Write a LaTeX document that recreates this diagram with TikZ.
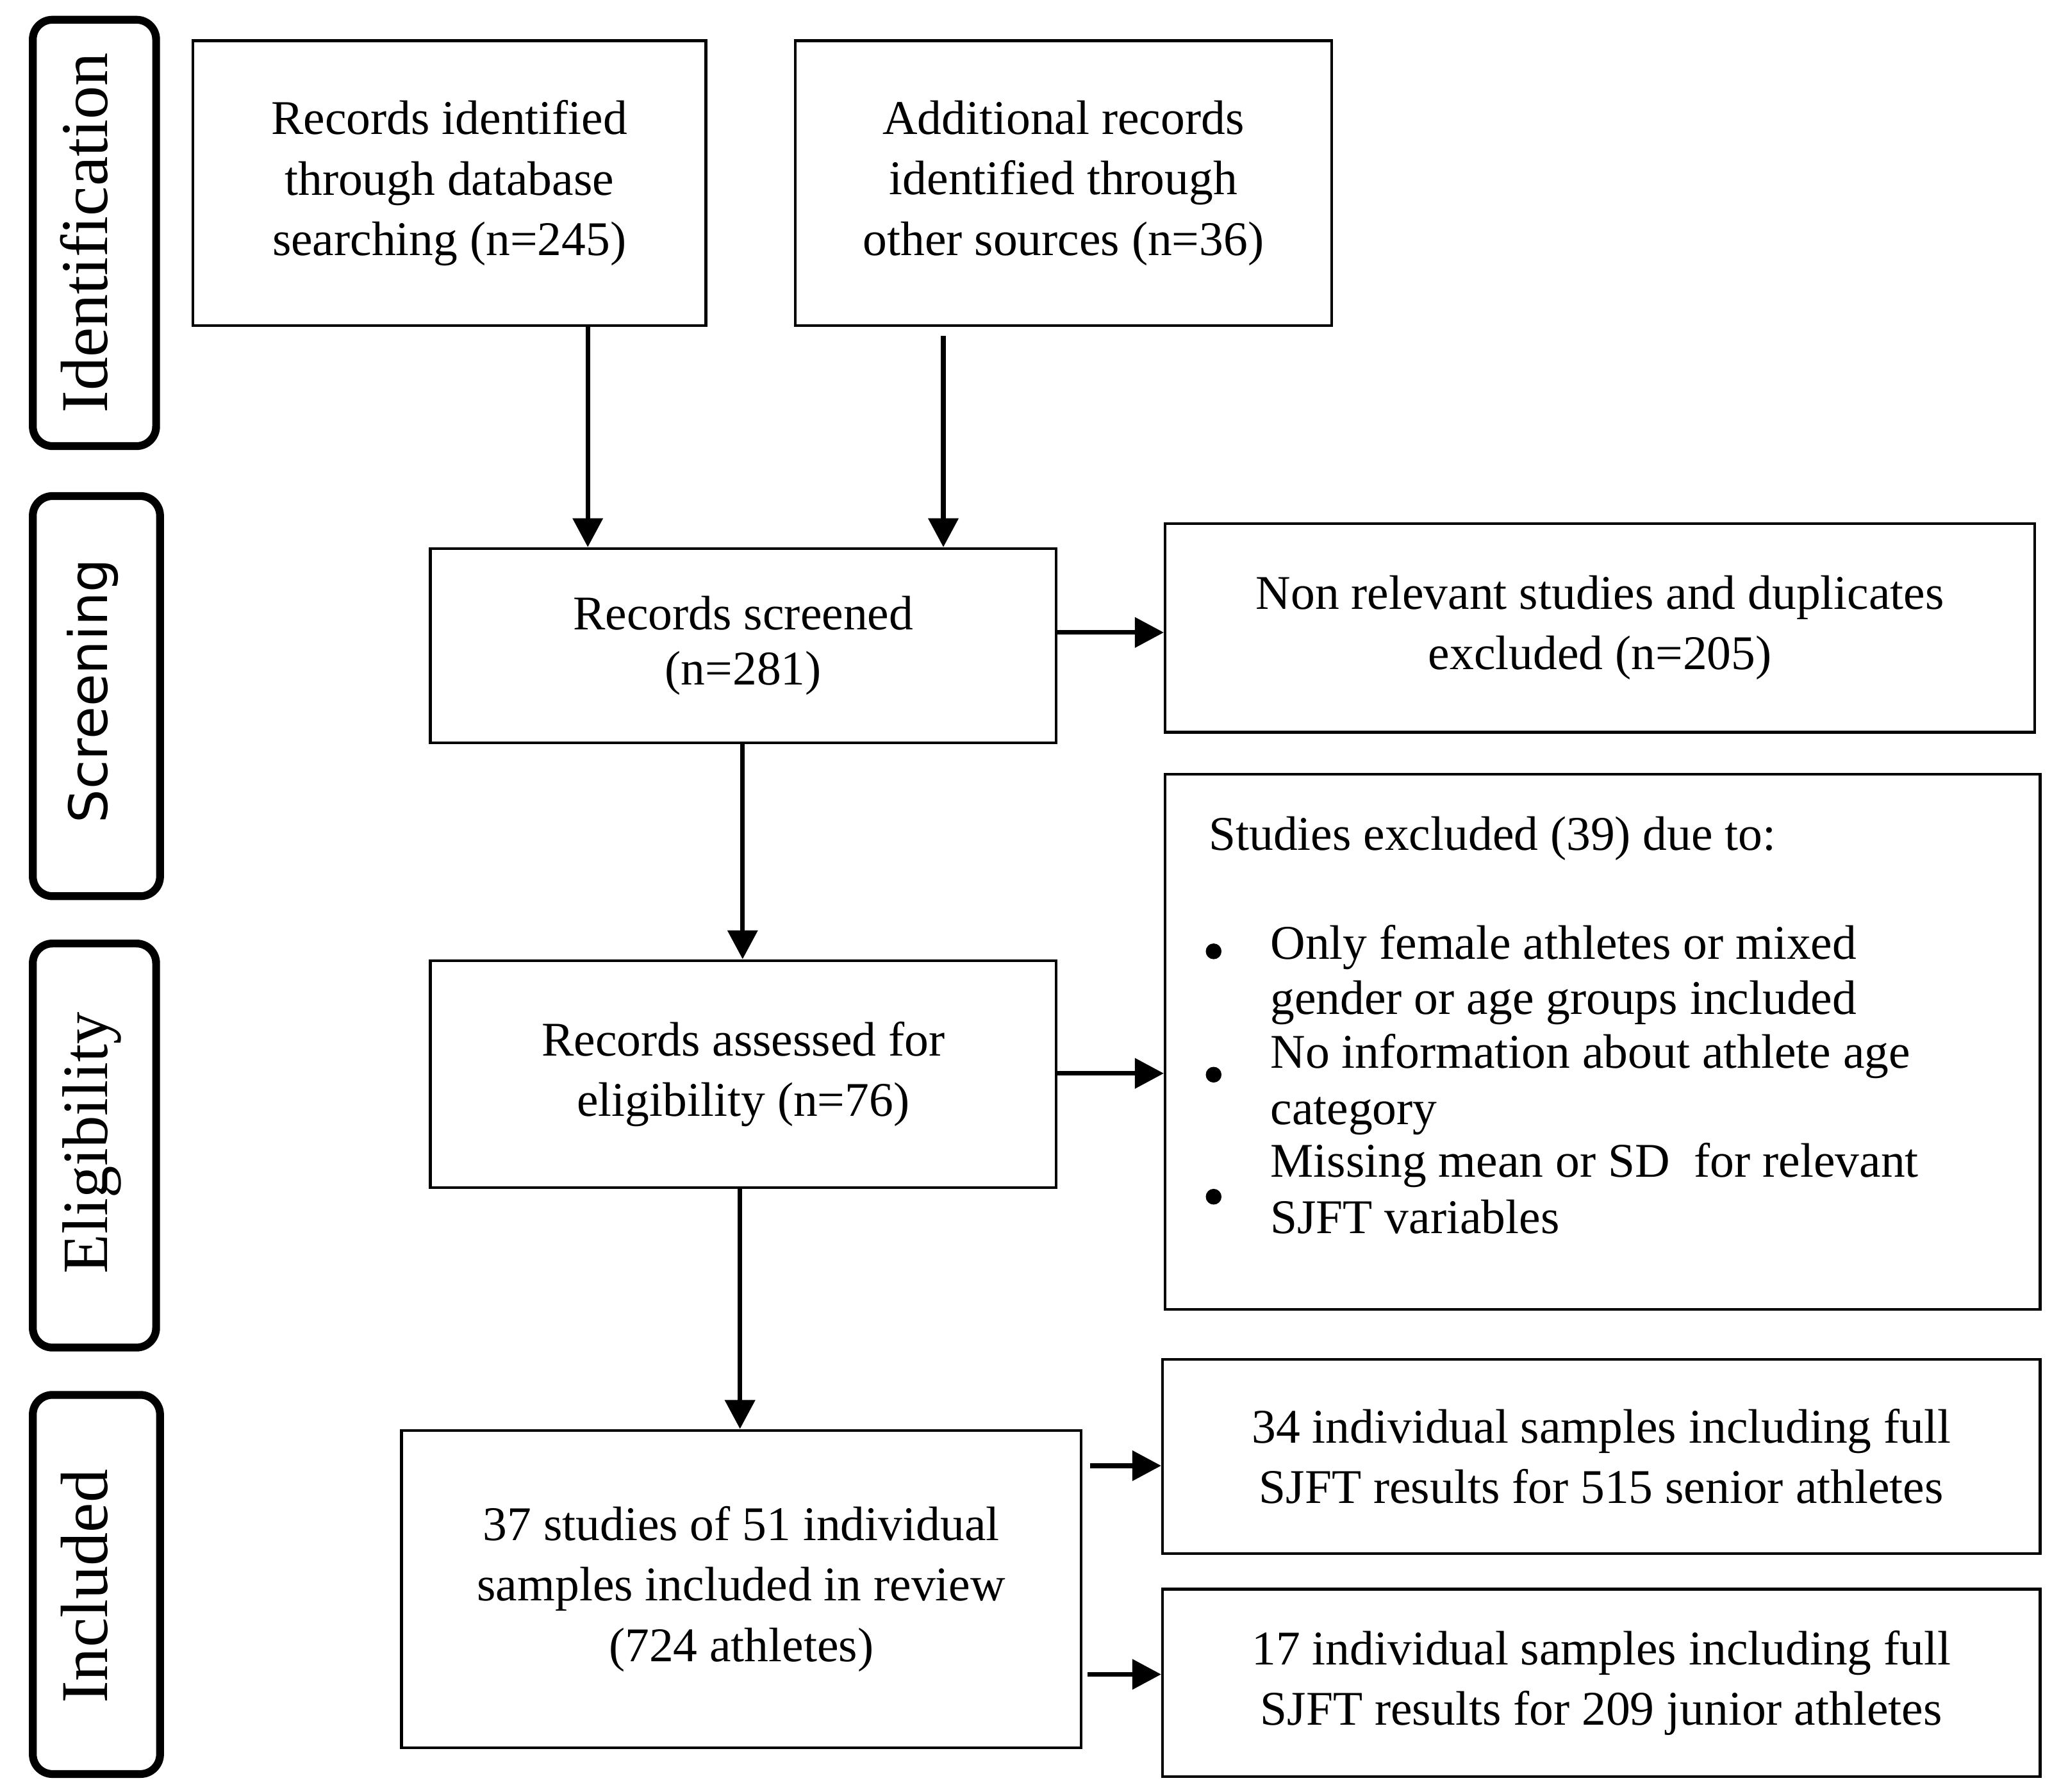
\documentclass[tikz,border=0pt]{standalone}
\usepackage{fontspec}
\setmainfont{Liberation Serif}
\setsansfont{DejaVu Sans}
\usetikzlibrary{arrows.meta,calc}
\begin{document}
\begin{tikzpicture}[x=0.02cm,y=-0.02cm,
  box/.style={draw, line width=1.2pt, inner sep=0pt, align=center, font=\fontsize{21}{26.2}\selectfont},
  txt/.style={inner sep=0pt, anchor=base west, font=\fontsize{21}{23}\selectfont},
  bul/.style={circle, fill, inner sep=0pt, minimum size=0.24cm},
  arr/.style={line width=2pt, -{Triangle[length=0.44cm,width=0.45cm]}},
  phase/.style={draw, line width=3.4pt, rounded corners=0.3cm, inner sep=0pt},
  lab/.style={inner sep=0pt, rotate=90, anchor=base, font=\fontsize{29}{32}\selectfont}]
\useasboundingbox (0,0) rectangle (1564,1365.2);

% phase labels
\node[phase, minimum width=1.88cm, minimum height=6.5cm] (p1) at (72,177.5) {};
\node[phase, minimum width=1.94cm, minimum height=6.1cm] (p2) at (73.5,530.5) {};
\node[phase, minimum width=1.88cm, minimum height=6.16cm] (p3) at (72,873) {};
\node[phase, minimum width=1.94cm, minimum height=5.78cm] (p4) at (73.5,1207.5) {};
\node[lab] (t1) at (82,177.5) {Identification};
\node[lab, font=\fontsize{23}{28}\selectfont\sffamily] (t2) at (82,526.5) {Screening};
\node[lab, font=\fontsize{28}{32}\selectfont] (t3) at (82,871) {Eligibility};
\node[lab] (t4) at (82,1209) {Included};

% boxes
\node[box, minimum width=7.82cm, minimum height=4.34cm] (id1) at (342.5,139.5) {Records identified\\through database\\searching (n=245)};
\node[box, minimum width=8.18cm, minimum height=4.34cm] (id2) at (810.5,139.5) {Additional records\\identified through\\other sources (n=36)};
\node[box, minimum width=9.54cm, minimum height=2.96cm, font=\fontsize{21}{23.8}\selectfont] (scr) at (566.5,492) {Records screened\\(n=281)};
\node[box, minimum width=13.26cm, minimum height=3.18cm] (ex1) at (1219.5,478.5) {Non relevant studies and duplicates\\excluded (n=205)};
\node[box, minimum width=9.54cm, minimum height=3.46cm] (ass) at (566.5,818.5) {Records assessed for\\eligibility (n=76)};
\node[box, minimum width=13.34cm, minimum height=8.16cm] (ex2) at (1221.5,794) {};
\node[box, minimum width=10.36cm, minimum height=4.84cm] (inc) at (565,1211) {37 studies of 51 individual\\samples included in review\\(724 athletes)};
\node[box, minimum width=13.38cm, minimum height=2.96cm] (sen) at (1220.5,1110) {34 individual samples including full\\SJFT results for 515 senior athletes};
\node[box, minimum width=13.38cm, minimum height=2.86cm] (jun) at (1220.5,1282.5) {17 individual samples including full\\SJFT results for 209 junior athletes};

% exclusion list
\node[txt] (h) at (921,648) {Studies excluded (39) due to:};
\node[bul] (b1) at (925,725) {};
\node[bul] (b2) at (925,819) {};
\node[bul] (b3) at (925,912) {};
\node[txt] (l1) at (968,731) {Only female athletes or mixed};
\node[txt] (l2) at (968,773) {gender or age groups included};
\node[txt] (l3) at (968,814) {No information about athlete age};
\node[txt] (l4) at (968,857) {category};
\node[txt] (l5) at (968,897) {Missing mean or SD\ \ for relevant};
\node[txt] (l6) at (968,940) {SJFT variables};

% arrows
\draw[arr] (id1.south -| 448,0) -- (scr.north -| 448,0);
\draw[arr] ($(id2.south -| 719,0)+(0,7)$) -- (scr.north -| 719,0);
\draw[arr] (scr.east |- 0,482) -- (ex1.west |- 0,482);
\draw[arr] (scr.south -| 566,0) -- (ass.north -| 566,0);
\draw[arr] (ass.east |- 0,818) -- (ex2.west |- 0,818);
\draw[arr] (ass.south -| 564,0) -- (inc.north -| 564,0);
\draw[arr] ($(inc.east |- 0,1117)+(6,0)$) -- (sen.west |- 0,1117);
\draw[arr] ($(inc.east |- 0,1276)+(4,0)$) -- (jun.west |- 0,1276);
\end{tikzpicture}
\end{document}
